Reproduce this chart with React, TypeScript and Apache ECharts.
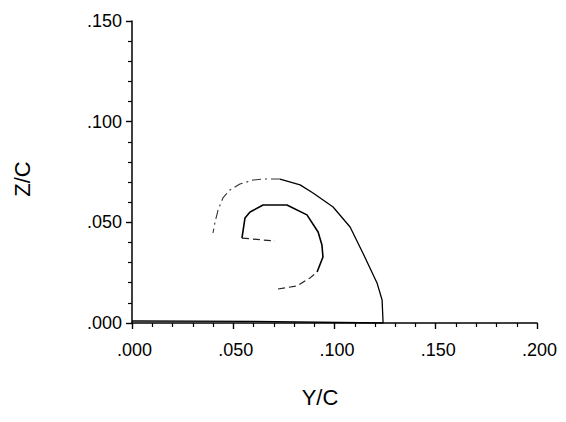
import React, { useEffect, useRef } from "react";
import * as echarts from "echarts";

// Outer curve (Y/C, Z/C), from wall along surface, then up and around
const outerY = [0.0, 0.06, 0.124, 0.124, 0.1235, 0.121, 0.114, 0.1077, 0.0993, 0.0894, 0.083, 0.0731, 0.0647, 0.0598, 0.0533, 0.0484, 0.0449, 0.0425, 0.041, 0.040];
const outerZ = [0.001, 0.0008, 0.0, 0.0, 0.0114, 0.0199, 0.0348, 0.0477, 0.0576, 0.0646, 0.0686, 0.0715, 0.0715, 0.071, 0.069, 0.0661, 0.0621, 0.0561, 0.0502, 0.0447];
// Inner spiral
const innerY = [0.0721, 0.0815, 0.0879, 0.0914, 0.0943, 0.0938, 0.0919, 0.0864, 0.0765, 0.0647, 0.0583, 0.0558, 0.0543, 0.0706];
const innerZ = [0.0169, 0.0184, 0.0224, 0.0253, 0.0328, 0.0387, 0.0452, 0.0537, 0.0586, 0.0586, 0.0551, 0.0522, 0.0422, 0.0407];

const xTicks = [".000", ".050", ".100", ".150", ".200"];
const yTicks = [".000", ".050", ".100", ".150"];

const pts = (xs: number[], ys: number[]) => xs.map((x, i) => [x, ys[i]]);

export default function App() {
  const ref = useRef<HTMLDivElement>(null);
  useEffect(() => {
    if (!ref.current) return;
    const chart = echarts.init(ref.current, undefined, { renderer: "svg" });
    const outer = pts(outerY, outerZ);
    const inner = pts(innerY, innerZ);
    const lineBase = { type: "line", showSymbol: false, symbol: "none", silent: true };
    const font = "Liberation Sans, Arial, sans-serif";
    const axisCommon = {
      type: "value",
      splitLine: { show: false },
      axisLine: { show: true, onZero: false, lineStyle: { color: "#000", width: 1.5 } },
      axisTick: { show: true, length: 6, lineStyle: { color: "#000", width: 1.4 } },
      minorTick: { show: true, splitNumber: 5, length: 4, lineStyle: { color: "#000", width: 1.2 } },
    };
    chart.setOption({
      animation: false,
      backgroundColor: "#ffffff",
      grid: { left: 132, right: 29, top: 21, bottom: 99 },
      xAxis: {
        ...axisCommon,
        min: 0,
        max: 0.2,
        interval: 0.05,
        axisLabel: {
          color: "#000",
          fontSize: 18,
          fontFamily: font,
          margin: 18,
          padding: [0, 0, 0, 5],
          formatter: (v: number) => xTicks[Math.round(v / 0.05)] ?? "",
        },
      },
      yAxis: {
        ...axisCommon,
        min: 0,
        max: 0.15,
        interval: 0.05,
        axisLabel: {
          color: "#000",
          fontSize: 18,
          fontFamily: font,
          margin: 10,
          formatter: (v: number) => yTicks[Math.round(v / 0.05)] ?? "",
        },
      },
      graphic: [
        {
          type: "text",
          x: 320,
          y: 397,
          style: { text: "Y/C", font: `22px ${font}`, fill: "#000", textAlign: "center", textVerticalAlign: "middle" },
        },
        {
          type: "text",
          x: 22,
          y: 179,
          rotation: Math.PI / 2,
          style: { text: "Z/C", font: `22px ${font}`, fill: "#000", textAlign: "center", textVerticalAlign: "middle" },
        },
      ],
      series: [
        { ...lineBase, data: outer.slice(0, 12), lineStyle: { color: "#000", width: 1.3 } },
        { ...lineBase, data: outer.slice(11), lineStyle: { color: "#333", width: 1.1, type: [9, 4, 2, 4] } },
        { ...lineBase, data: inner.slice(3, 13), lineStyle: { color: "#000", width: 1.6 } },
        { ...lineBase, data: inner.slice(0, 4), lineStyle: { color: "#222", width: 1.2, type: [7, 4] } },
        { ...lineBase, data: inner.slice(12), lineStyle: { color: "#222", width: 1.2, type: [7, 4] } },
      ],
    });
    return () => chart.dispose();
  }, []);
  return <div ref={ref} style={{ position: "fixed", left: 0, top: 0, width: 566, height: 422 }} />;
}
